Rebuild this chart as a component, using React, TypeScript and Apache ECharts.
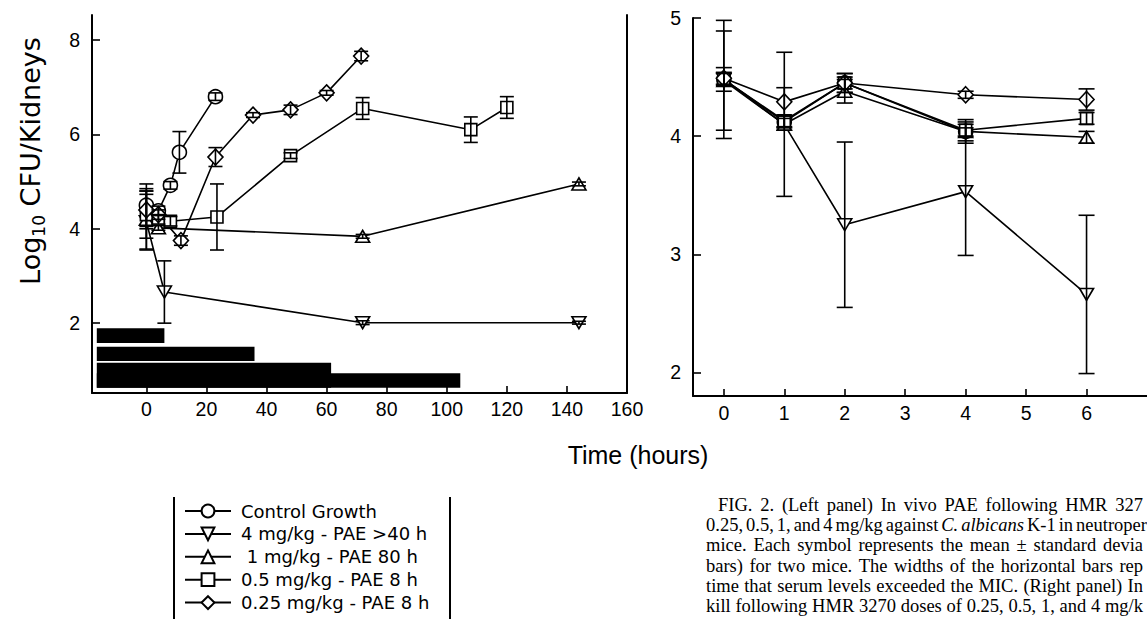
import React, { useEffect, useRef } from 'react';
import * as echarts from 'echarts';

// ---------- legend / series meta ----------
const seriesNames = [
  'Control Growth',
  '4 mg/kg - PAE >40 h',
  ' 1 mg/kg - PAE 80 h',
  '0.5 mg/kg - PAE 8 h',
  '0.25 mg/kg - PAE 8 h',
];

// ---------- left panel (PAE, hours) ----------
const ctrlX = [0, 4, 8, 11, 23];
const ctrlY = [4.5, 4.38, 4.92, 5.62, 6.8];
const ctrlE = [0.45, 0.1, 0.08, 0.44, 0.08];

const d4X = [0, 6, 72, 144];
const d4Y = [4.15, 2.66, 2.01, 2.01];
const d4E = [0.58, 0.66, 0.04, 0.03];

const d1X = [0, 4, 72, 144];
const d1Y = [4.2, 4.02, 3.84, 4.95];
const d1E = [0.65, 0.05, 0.04, 0.04];

const d05X = [0, 4, 8, 23.5, 48, 72, 108, 120];
const d05Y = [4.3, 4.2, 4.16, 4.25, 5.55, 6.55, 6.1, 6.57];
const d05E = [0.5, 0.1, 0.1, 0.7, 0.06, 0.23, 0.27, 0.23];

const d025X = [0, 4, 11.5, 23, 35.5, 48, 60, 71.5];
const d025Y = [4.4, 4.3, 3.75, 5.52, 6.41, 6.52, 6.88, 7.66];
const d025E = [0.4, 0.1, 0.1, 0.2, 0.05, 0.1, 0.05, 0.1];

// horizontal MIC bars (time above MIC)
const micStart = -16.5;
const micEnd = [6, 36, 61.5, 104.5];
const micLow = [1.58, 1.2, 0.63, 0.63];
const micHigh = [1.89, 1.5, 1.16, 0.94];

const leftXTicks = [0, 20, 40, 60, 80, 100, 120, 140, 160];
const leftYTicks = [2, 4, 6, 8];

// ---------- right panel (kill, hours) ----------
const rCtrlX = [0, 1, 2, 4];
const rCtrlY = [4.48, 4.12, 4.45, 4.04];
const rCtrlE = [0.1, 0.05, 0.08, 0.08];

const rX = [0, 1, 2, 4, 6];
const r4Y = [4.48, 4.1, 3.25, 3.53, 2.66];
const r4E = [0.5, 0.61, 0.7, 0.54, 0.67];
const r1Y = [4.47, 4.1, 4.38, 4.04, 3.99];
const r1E = [0.42, 0.05, 0.1, 0.1, 0.05];
const r05Y = [4.48, 4.13, 4.45, 4.05, 4.15];
const r05E = [0.05, 0.05, 0.08, 0.05, 0.05];
const r025Y = [4.49, 4.29, 4.45, 4.35, 4.31];
const r025E = [0.05, 0.12, 0.05, 0.03, 0.09];

const rightXTicks = [0, 1, 2, 3, 4, 5, 6];
const rightYTicks = [2, 3, 4, 5];

// ---------- caption (visible part of the figure caption) ----------
const captionLines = [
  'FIG. 2. (Left panel) In vivo PAE following HMR 327',
  '0.25, 0.5, 1, and 4 mg/kg against C. albicans K-1 in neutroper',
  'mice. Each symbol represents the mean ± standard devia',
  'bars) for two mice. The widths of the horizontal bars rep',
  'time that serum levels exceeded the MIC. (Right panel) In',
  'kill following HMR 3270 doses of 0.25, 0.5, 1, and 4 mg/k',
];
const captionItalic = [[], ['C.', 'albicans'], [], [], [], []];

const SANS = '"Liberation Sans", Arial, Helvetica, sans-serif';
const WIDE = '"DejaVu Sans", "Liberation Sans", sans-serif';
const SERIF = '"Liberation Serif", "Times New Roman", serif';
const CAP_SIZE = 18.5;

const symbolDefs = [
  { symbol: 'circle', size: 14, rotate: 0 },
  { symbol: 'triangle', size: [14, 12], rotate: 180 },
  { symbol: 'triangle', size: [14, 12], rotate: 0 },
  { symbol: 'rect', size: 12, rotate: 0 },
  { symbol: 'diamond', size: [15, 16], rotate: 0 },
];

function lineSeries(idx: number, xs: number[], ys: number[], grid: number) {
  const s = symbolDefs[idx];
  return {
    type: 'line',
    name: seriesNames[idx],
    xAxisIndex: grid,
    yAxisIndex: grid === 0 ? 0 : 2,
    data: xs.map((x, i) => [x, ys[i]]),
    symbol: s.symbol,
    symbolSize: s.size,
    symbolRotate: s.rotate,
    showSymbol: true,
    showAllSymbol: true,
    itemStyle: { color: '#fff', borderColor: '#000', borderWidth: 1.6 },
    lineStyle: { color: '#000', width: 1.6 },
    emphasis: { disabled: true },
    z: 3,
  };
}

function errSeries(xs: number[], ys: number[], es: number[], grid: number, capHalf: number) {
  return {
    type: 'custom',
    xAxisIndex: grid,
    yAxisIndex: grid === 0 ? 0 : 2,
    data: xs.map((x, i) => [x, ys[i] - es[i], ys[i] + es[i]]),
    renderItem: (params: any, api: any) => {
      const x = api.value(0);
      const lo = api.coord([x, api.value(1)]);
      const hi = api.coord([x, api.value(2)]);
      const st = { stroke: '#000', lineWidth: 1.6 };
      return {
        type: 'group',
        children: [
          { type: 'line', shape: { x1: hi[0], y1: hi[1], x2: lo[0], y2: lo[1] }, style: st },
          { type: 'line', shape: { x1: hi[0] - capHalf, y1: hi[1], x2: hi[0] + capHalf, y2: hi[1] }, style: st },
          { type: 'line', shape: { x1: lo[0] - capHalf, y1: lo[1], x2: lo[0] + capHalf, y2: lo[1] }, style: st },
        ],
      };
    },
    silent: true,
    z: 4,
  };
}

function captionGraphics() {
  const canvas = document.createElement('canvas');
  const ctx = canvas.getContext('2d') as CanvasRenderingContext2D;
  const out: any[] = [];
  const right = 1143;
  captionLines.forEach((line, li) => {
    const words = line.split(' ');
    const fonts = words.map((w) =>
      captionItalic[li].indexOf(w) >= 0 ? `italic ${CAP_SIZE}px ${SERIF}` : `${CAP_SIZE}px ${SERIF}`
    );
    const widths = words.map((w, i) => {
      ctx.font = fonts[i];
      return ctx.measureText(w).width;
    });
    const x0 = li === 0 ? 718 : 706;
    const total = widths.reduce((a, b) => a + b, 0);
    const gap = Math.max(3, (right - x0 - total) / (words.length - 1));
    let x = x0;
    const y = 505 + li * 20.2;
    words.forEach((w, i) => {
      out.push({
        type: 'text',
        x,
        y,
        style: {
          text: w,
          fontSize: CAP_SIZE,
          fontFamily: SERIF,
          fontStyle: captionItalic[li].indexOf(w) >= 0 ? 'italic' : 'normal',
          fill: '#000',
          verticalAlign: 'middle',
        },
      });
      x += widths[i] + gap;
    });
  });
  return out;
}

export default function App() {
  const ref = useRef<HTMLDivElement>(null);

  useEffect(() => {
    if (!ref.current) return;
    const chart = echarts.init(ref.current, undefined, { renderer: 'svg' });

    const axisLine = { show: true, onZero: false, lineStyle: { color: '#000', width: 2 } };
    const labelStyle = { color: '#000', fontSize: 19.5, fontFamily: SANS };

    const option: any = {
      animation: false,
      backgroundColor: '#fff',
      grid: [
        { left: 92, top: 15, width: 535, height: 378 },
        { left: 693, top: 18, width: 467, height: 378 },
      ],
      xAxis: [
        {
          type: 'value', gridIndex: 0, min: -18.1, max: 160,
          axisLine, splitLine: { show: false },
          axisTick: { show: true, inside: true, length: 7, lineStyle: { color: '#000', width: 1.6 }, customValues: leftXTicks },
          axisLabel: { ...labelStyle, margin: 6, customValues: leftXTicks },
        },
        {
          type: 'value', gridIndex: 1, min: -0.51, max: 7,
          axisLine, splitLine: { show: false },
          axisTick: { show: true, inside: true, length: 7, lineStyle: { color: '#000', width: 1.6 }, customValues: rightXTicks },
          axisLabel: { ...labelStyle, margin: 7, customValues: rightXTicks },
        },
      ],
      yAxis: [
        {
          type: 'value', gridIndex: 0, min: 0.52, max: 8.53,
          axisLine, splitLine: { show: false },
          axisTick: { show: true, inside: true, length: 8, lineStyle: { color: '#000', width: 1.6 }, customValues: leftYTicks },
          axisLabel: { ...labelStyle, margin: 12, customValues: leftYTicks },
        },
        {
          type: 'value', gridIndex: 0, position: 'right', min: 0.52, max: 8.53,
          axisLine, splitLine: { show: false }, axisTick: { show: false }, axisLabel: { show: false },
        },
        {
          type: 'value', gridIndex: 1, min: 1.8, max: 5,
          axisLine, splitLine: { show: false },
          axisTick: { show: true, inside: true, length: 8, lineStyle: { color: '#000', width: 1.6 }, customValues: rightYTicks },
          axisLabel: { ...labelStyle, margin: 12, customValues: rightYTicks },
        },
      ],
      legend: {
        data: seriesNames,
        orient: 'vertical',
        left: 184,
        top: 502,
        itemWidth: 46,
        itemHeight: 16,
        itemGap: 4.9,
        selectedMode: false,
        padding: 0,
        textStyle: { color: '#000', fontSize: 18, fontFamily: WIDE, padding: [0, 0, 0, 5] },
      },
      graphic: [
        {
          type: 'text', x: 30, y: 161, rotation: Math.PI / 2,
          style: {
            text: '{a|Log}{b|10}{a| CFU/Kidneys}',
            align: 'center', verticalAlign: 'middle',
            fill: '#000',
            rich: {
              a: { fontSize: 27, fontFamily: WIDE, fill: '#000', lineHeight: 34, verticalAlign: 'middle' },
              b: { fontSize: 17, fontFamily: WIDE, fill: '#000', lineHeight: 34, verticalAlign: 'bottom', padding: [12, 0, 0, 0] },
            },
          },
        },
        {
          type: 'text', x: 638, y: 455,
          style: { text: 'Time (hours)', fontSize: 25, fontFamily: SANS, fill: '#000', align: 'center', verticalAlign: 'middle' },
        },
        { type: 'line', shape: { x1: 174, y1: 497, x2: 174, y2: 619 }, style: { stroke: '#000', lineWidth: 2 } },
        { type: 'line', shape: { x1: 450, y1: 497, x2: 450, y2: 619 }, style: { stroke: '#000', lineWidth: 2 } },
        ...captionGraphics(),
      ],
      series: [
        {
          type: 'custom', xAxisIndex: 0, yAxisIndex: 0, silent: true, z: 2,
          data: micEnd.map((e, i) => [micStart, e, micLow[i], micHigh[i]]),
          renderItem: (params: any, api: any) => {
            const p1 = api.coord([api.value(0), api.value(3)]);
            const p2 = api.coord([api.value(1), api.value(2)]);
            return { type: 'rect', shape: { x: p1[0], y: p1[1], width: p2[0] - p1[0], height: p2[1] - p1[1] }, style: { fill: '#000' } };
          },
        },
        lineSeries(0, ctrlX, ctrlY, 0),
        lineSeries(1, d4X, d4Y, 0),
        lineSeries(2, d1X, d1Y, 0),
        lineSeries(3, d05X, d05Y, 0),
        lineSeries(4, d025X, d025Y, 0),
        errSeries(ctrlX, ctrlY, ctrlE, 0, 7),
        errSeries(d4X, d4Y, d4E, 0, 7),
        errSeries(d1X, d1Y, d1E, 0, 7),
        errSeries(d05X, d05Y, d05E, 0, 7),
        errSeries(d025X, d025Y, d025E, 0, 7),
        lineSeries(0, rCtrlX, rCtrlY, 1),
        lineSeries(1, rX, r4Y, 1),
        lineSeries(2, rX, r1Y, 1),
        lineSeries(3, rX, r05Y, 1),
        lineSeries(4, rX, r025Y, 1),
        errSeries(rCtrlX, rCtrlY, rCtrlE, 1, 8),
        errSeries(rX, r4Y, r4E, 1, 8),
        errSeries(rX, r1Y, r1E, 1, 8),
        errSeries(rX, r05Y, r05E, 1, 8),
        errSeries(rX, r025Y, r025E, 1, 8),
      ],
    };

    chart.setOption(option);
    return () => chart.dispose();
  }, []);

  return (
    <div
      ref={ref}
      style={{ position: 'absolute', left: 0, top: 0, width: 1147, height: 619, background: '#fff' }}
    />
  );
}
